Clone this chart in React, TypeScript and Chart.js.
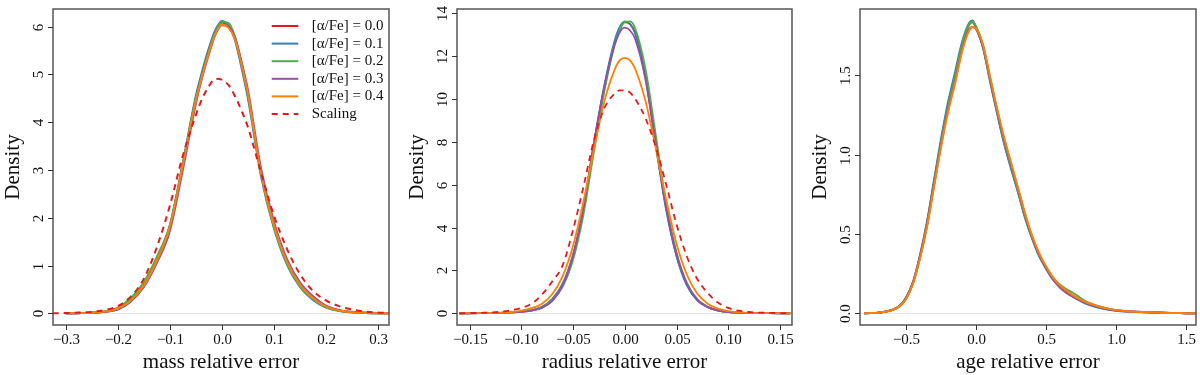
import React, { useEffect, useRef } from "react";
import { Chart, registerables } from "chart.js";

Chart.register(...registerables);

// ---------- shared ----------
const SERIES_LABELS = ["[α/Fe] = 0.0", "[α/Fe] = 0.1", "[α/Fe] = 0.2", "[α/Fe] = 0.3", "[α/Fe] = 0.4", "Scaling"];
const SERIES_COLORS = ["#E41A1C", "#377EB8", "#4DAF4A", "#984EA3", "#FF7F00", "#E41A1C"];
const Y_TITLE = "Density";

// ---------- panel 1: mass ----------
const massX = [-0.30, -0.275, -0.25, -0.225, -0.20, -0.175, -0.15, -0.125, -0.10, -0.075, -0.05, -0.0375, -0.025, -0.0125, 0.0, 0.0125, 0.025, 0.0375, 0.05, 0.075, 0.10, 0.125, 0.15, 0.175, 0.20, 0.225, 0.25, 0.275, 0.30, 0.325];
const massA00 = [0, 0.003, 0.011, 0.034, 0.1, 0.27, 0.59, 1.12, 1.82, 3.12, 4.5, 5.03, 5.5, 5.9, 6.09, 6.02, 5.76, 5.22, 4.6, 2.95, 1.83, 1.06, 0.59, 0.31, 0.14, 0.06, 0.025, 0.01, 0.003, 0];
const massA01 = [0, 0.003, 0.01, 0.03, 0.08, 0.24, 0.56, 1.10, 1.82, 3.15, 4.55, 5.08, 5.55, 5.93, 6.12, 6.02, 5.72, 5.15, 4.5, 2.88, 1.78, 1.02, 0.55, 0.28, 0.12, 0.05, 0.02, 0.008, 0.002, 0];
const massA02 = [0, 0.004, 0.013, 0.04, 0.12, 0.32, 0.65, 1.18, 1.85, 3.12, 4.48, 5.0, 5.48, 5.88, 6.1, 6.08, 5.8, 5.25, 4.6, 2.93, 1.8, 1.04, 0.57, 0.3, 0.13, 0.055, 0.022, 0.008, 0.002, 0];
const massA03 = [0, 0.003, 0.011, 0.033, 0.09, 0.25, 0.55, 1.05, 1.72, 3.0, 4.38, 4.95, 5.42, 5.83, 6.03, 6.0, 5.78, 5.28, 4.68, 3.05, 1.92, 1.14, 0.65, 0.36, 0.16, 0.07, 0.03, 0.012, 0.004, 0];
const massA04 = [0, 0.004, 0.012, 0.035, 0.10, 0.27, 0.58, 1.10, 1.80, 3.10, 4.45, 4.98, 5.45, 5.85, 6.04, 5.98, 5.75, 5.22, 4.6, 2.95, 1.85, 1.08, 0.60, 0.32, 0.14, 0.06, 0.025, 0.01, 0.003, 0];
const massScalingX = [-0.325, -0.30, -0.275, -0.25, -0.225, -0.20, -0.175, -0.15, -0.125, -0.10, -0.075, -0.05, -0.0375, -0.025, -0.0125, 0.0, 0.0125, 0.025, 0.0375, 0.05, 0.075, 0.10, 0.125, 0.15, 0.175, 0.20, 0.225, 0.25, 0.275, 0.30, 0.325];
const massScaling = [0, 0.005, 0.015, 0.03, 0.07, 0.15, 0.35, 0.72, 1.38, 2.25, 3.3, 4.15, 4.5, 4.75, 4.91, 4.89, 4.78, 4.55, 4.25, 3.9, 2.95, 2.05, 1.35, 0.82, 0.47, 0.27, 0.15, 0.08, 0.035, 0.015, 0.003];
const massXTicks = [-0.3, -0.2, -0.1, 0.0, 0.1, 0.2, 0.3];
const massXTickLabels = ["−0.3", "−0.2", "−0.1", "0.0", "0.1", "0.2", "0.3"];
const massYTicks = [0, 1, 2, 3, 4, 5, 6];
const massYTickLabels = ["0", "1", "2", "3", "4", "5", "6"];

// ---------- panel 2: radius ----------
const radX = [-0.16, -0.14, -0.12, -0.11, -0.10, -0.09, -0.08, -0.07, -0.06, -0.05, -0.04, -0.03, -0.02, -0.01, -0.005, 0.0, 0.005, 0.01, 0.02, 0.03, 0.04, 0.05, 0.06, 0.07, 0.08, 0.09, 0.10, 0.11, 0.12, 0.14, 0.16];
const radA00 = [0, 0.005, 0.02, 0.04, 0.08, 0.14, 0.29, 0.65, 1.35, 2.7, 4.85, 7.8, 10.5, 12.6, 13.3, 13.58, 13.5, 13.1, 11.1, 7.9, 4.9, 2.7, 1.33, 0.62, 0.29, 0.13, 0.06, 0.03, 0.015, 0.005, 0];
const radA01 = [0, 0.005, 0.02, 0.04, 0.08, 0.15, 0.3, 0.68, 1.4, 2.75, 4.9, 7.9, 10.6, 12.7, 13.35, 13.62, 13.5, 13.05, 11.0, 7.8, 4.8, 2.65, 1.3, 0.6, 0.28, 0.13, 0.06, 0.03, 0.015, 0.005, 0];
const radA02 = [0, 0.005, 0.02, 0.04, 0.07, 0.13, 0.27, 0.6, 1.25, 2.5, 4.6, 7.5, 10.3, 12.5, 13.2, 13.6, 13.62, 13.3, 11.4, 8.3, 5.1, 2.85, 1.42, 0.66, 0.3, 0.14, 0.06, 0.03, 0.015, 0.005, 0];
const radA03 = [0, 0.005, 0.02, 0.04, 0.07, 0.13, 0.25, 0.58, 1.3, 2.7, 4.9, 7.9, 10.5, 12.5, 13.1, 13.33, 13.2, 12.8, 10.9, 7.9, 4.95, 2.75, 1.38, 0.64, 0.3, 0.14, 0.06, 0.03, 0.015, 0.005, 0];
const radA04 = [0, 0.01, 0.03, 0.06, 0.12, 0.24, 0.45, 0.9, 1.75, 3.15, 5.2, 7.6, 9.85, 11.35, 11.8, 11.92, 11.8, 11.4, 9.9, 7.7, 5.3, 3.25, 1.8, 0.92, 0.45, 0.22, 0.1, 0.05, 0.02, 0.005, 0];
const radScaling = [0, 0.02, 0.07, 0.14, 0.25, 0.45, 0.88, 1.5, 2.25, 3.9, 5.9, 8.05, 9.55, 10.25, 10.4, 10.4, 10.3, 10.0, 9.1, 7.75, 6.0, 4.15, 2.65, 1.6, 0.95, 0.5, 0.25, 0.12, 0.06, 0.02, 0.005];
const radXTicks = [-0.15, -0.10, -0.05, 0.0, 0.05, 0.10, 0.15];
const radXTickLabels = ["−0.15", "−0.10", "−0.05", "0.00", "0.05", "0.10", "0.15"];
const radYTicks = [0, 2, 4, 6, 8, 10, 12, 14];
const radYTickLabels = ["0", "2", "4", "6", "8", "10", "12", "14"];

// ---------- panel 3: age ----------
const ageX = [-0.80, -0.75, -0.70, -0.65, -0.60, -0.55, -0.50, -0.45, -0.40, -0.35, -0.30, -0.25, -0.20, -0.15, -0.10, -0.05, -0.025, 0.0, 0.05, 0.10, 0.15, 0.20, 0.25, 0.30, 0.35, 0.40, 0.45, 0.50, 0.55, 0.60, 0.65, 0.70, 0.75, 0.80, 0.90, 1.00, 1.10, 1.20, 1.30, 1.40, 1.50, 1.57];
const ageA00 = [0, 0.002, 0.004, 0.01, 0.021, 0.044, 0.095, 0.195, 0.36, 0.57, 0.83, 1.08, 1.31, 1.5, 1.69, 1.82, 1.835, 1.8, 1.68, 1.47, 1.27, 1.08, 0.92, 0.77, 0.61, 0.48, 0.37, 0.29, 0.22, 0.17, 0.135, 0.105, 0.08, 0.06, 0.034, 0.018, 0.011, 0.007, 0.004, 0.002, 0.001, 0];
const ageA01 = [0, 0.002, 0.004, 0.01, 0.022, 0.045, 0.1, 0.2, 0.37, 0.58, 0.84, 1.1, 1.33, 1.52, 1.71, 1.83, 1.845, 1.8, 1.67, 1.46, 1.26, 1.07, 0.91, 0.76, 0.6, 0.47, 0.36, 0.28, 0.21, 0.165, 0.13, 0.1, 0.075, 0.055, 0.03, 0.016, 0.01, 0.006, 0.004, 0.002, 0.001, 0];
const ageA02 = [0, 0.002, 0.004, 0.01, 0.02, 0.042, 0.09, 0.19, 0.35, 0.55, 0.81, 1.07, 1.3, 1.49, 1.69, 1.82, 1.84, 1.81, 1.69, 1.48, 1.28, 1.09, 0.93, 0.77, 0.61, 0.48, 0.37, 0.29, 0.225, 0.18, 0.15, 0.125, 0.095, 0.068, 0.038, 0.02, 0.012, 0.008, 0.005, 0.002, 0.001, 0];
const ageA03 = [0, 0.002, 0.004, 0.01, 0.021, 0.043, 0.095, 0.195, 0.36, 0.56, 0.81, 1.06, 1.28, 1.46, 1.66, 1.79, 1.805, 1.79, 1.68, 1.48, 1.28, 1.1, 0.94, 0.78, 0.62, 0.48, 0.37, 0.285, 0.215, 0.16, 0.125, 0.1, 0.078, 0.06, 0.035, 0.019, 0.012, 0.009, 0.006, 0.002, 0.001, 0];
const ageA04 = [0, 0.002, 0.004, 0.01, 0.02, 0.042, 0.09, 0.19, 0.35, 0.55, 0.8, 1.05, 1.27, 1.45, 1.65, 1.78, 1.805, 1.795, 1.69, 1.49, 1.29, 1.11, 0.95, 0.79, 0.63, 0.49, 0.38, 0.295, 0.225, 0.175, 0.14, 0.11, 0.085, 0.065, 0.038, 0.02, 0.012, 0.008, 0.005, 0.002, 0.001, 0];
const ageXTicks = [-0.5, 0.0, 0.5, 1.0, 1.5];
const ageXTickLabels = ["−0.5", "0.0", "0.5", "1.0", "1.5"];
const ageYTicks = [0, 0.5, 1.0, 1.5];
const ageYTickLabels = ["0.0", "0.5", "1.0", "1.5"];

const FONT = '"Liberation Serif", "Times New Roman", serif';

type Series = { xs: number[]; ys: number[]; idx: number };

type PanelCfg = {
  xMin: number; xMax: number; yMin: number; yMax: number;
  xTicks: number[]; xTickLabels: string[];
  yTicks: number[]; yTickLabels: string[];
  xTitle: string;
  yAxisWidth: number; padRight: number;
  series: Series[];
  legend: boolean;
  lineWidth: number;
};

const PANELS: PanelCfg[] = [
  {
    xMin: -0.3244, xMax: 0.3211, yMin: -0.245, yMax: 6.37,
    xTicks: massXTicks, xTickLabels: massXTickLabels, yTicks: massYTicks, yTickLabels: massYTickLabels,
    xTitle: "mass relative error", yAxisWidth: 53, padRight: 11,
    series: [
      { xs: massX, ys: massA00, idx: 0 },
      { xs: massX, ys: massA01, idx: 1 },
      { xs: massX, ys: massA02, idx: 2 },
      { xs: massX, ys: massA03, idx: 3 },
      { xs: massX, ys: massA04, idx: 4 },
      { xs: massScalingX, ys: massScaling, idx: 5 },
    ],
    legend: true, lineWidth: 2,
  },
  {
    xMin: -0.1622, xMax: 0.1616, yMin: -0.546, yMax: 14.2,
    xTicks: radXTicks, xTickLabels: radXTickLabels, yTicks: radYTicks, yTickLabels: radYTickLabels,
    xTitle: "radius relative error", yAxisWidth: 57, padRight: 8,
    series: [
      { xs: radX, ys: radA00, idx: 0 },
      { xs: radX, ys: radA01, idx: 1 },
      { xs: radX, ys: radA02, idx: 2 },
      { xs: radX, ys: radA03, idx: 3 },
      { xs: radX, ys: radA04, idx: 4 },
      { xs: radX, ys: radScaling, idx: 5 },
    ],
    legend: false, lineWidth: 1.8,
  },
  {
    xMin: -0.829, xMax: 1.571, yMin: -0.0737, yMax: 1.918,
    xTicks: ageXTicks, xTickLabels: ageXTickLabels, yTicks: ageYTicks, yTickLabels: ageYTickLabels,
    xTitle: "age relative error", yAxisWidth: 60, padRight: 4,
    series: [
      { xs: ageX, ys: ageA00, idx: 0 },
      { xs: ageX, ys: ageA01, idx: 1 },
      { xs: ageX, ys: ageA02, idx: 2 },
      { xs: ageX, ys: ageA03, idx: 3 },
      { xs: ageX, ys: ageA04, idx: 4 },
    ],
    legend: false, lineWidth: 2,
  },
];

function makeChart(canvas: HTMLCanvasElement, cfg: PanelCfg) {
  const rPlugin = {
    id: "rstyle",
    beforeDatasetsDraw(chart: any) {
      const { ctx, chartArea: a, scales } = chart;
      const y0 = Math.round(scales.y.getPixelForValue(0)) + 0.5;
      ctx.save();
      ctx.strokeStyle = "#e6e6e6";
      ctx.lineWidth = 1;
      ctx.beginPath();
      ctx.moveTo(a.left, y0);
      ctx.lineTo(a.right, y0);
      ctx.stroke();
      ctx.restore();
    },
    afterDraw(chart: any) {
      const { ctx, chartArea: a, scales } = chart;
      const xs = scales.x;
      const ys = scales.y;
      ctx.save();
      // box
      ctx.strokeStyle = "#555";
      ctx.lineWidth = 1.5;
      ctx.strokeRect(a.left, a.top, a.right - a.left, a.bottom - a.top);
      // x ticks
      ctx.strokeStyle = "#333";
      ctx.lineWidth = 1;
      ctx.fillStyle = "#111";
      ctx.font = `15px ${FONT}`;
      ctx.textAlign = "center";
      ctx.textBaseline = "alphabetic";
      cfg.xTicks.forEach((v, i) => {
        const px = Math.round(xs.getPixelForValue(v)) + 0.5;
        ctx.beginPath();
        ctx.moveTo(px, a.bottom);
        ctx.lineTo(px, a.bottom + 5);
        ctx.stroke();
        ctx.fillText(cfg.xTickLabels[i], px, a.bottom + 18.5);
      });
      // y ticks
      cfg.yTicks.forEach((v, i) => {
        const py = Math.round(ys.getPixelForValue(v)) + 0.5;
        ctx.beginPath();
        ctx.moveTo(a.left - 5, py);
        ctx.lineTo(a.left, py);
        ctx.stroke();
        ctx.save();
        ctx.translate(a.left - 10, py);
        ctx.rotate(-Math.PI / 2);
        ctx.fillText(cfg.yTickLabels[i], 0, 0);
        ctx.restore();
      });
      // titles
      ctx.font = `21px ${FONT}`;
      ctx.fillText(cfg.xTitle, (a.left + a.right) / 2, a.bottom + 43);
      ctx.save();
      ctx.translate(a.left - 34, (a.top + a.bottom) / 2);
      ctx.rotate(-Math.PI / 2);
      ctx.fillText(Y_TITLE, 0, 0);
      ctx.restore();
      // legend
      if (cfg.legend) {
        ctx.font = `15px ${FONT}`;
        ctx.textAlign = "left";
        ctx.textBaseline = "middle";
        chart.data.datasets.forEach((ds: any, i: number) => {
          const ly = a.top + 17 + i * 17.6;
          ctx.save();
          ctx.strokeStyle = ds.borderColor;
          ctx.lineWidth = 2;
          ctx.setLineDash(ds.borderDash || []);
          ctx.beginPath();
          ctx.moveTo(a.right - 117.3, ly);
          ctx.lineTo(a.right - 90.7, ly);
          ctx.stroke();
          ctx.restore();
          ctx.fillText(ds.label, a.right - 77.3, ly);
        });
      }
      ctx.restore();
    },
  };

  const datasets = cfg.series.map((s) => ({
    label: SERIES_LABELS[s.idx],
    data: s.xs.map((x, i) => ({ x, y: s.ys[i] })),
    borderColor: SERIES_COLORS[s.idx],
    backgroundColor: SERIES_COLORS[s.idx],
    borderWidth: cfg.lineWidth,
    borderDash: s.idx === 5 ? [6, 5] : [],
    pointRadius: 0,
    fill: false,
    cubicInterpolationMode: "monotone" as const,
    order: 6 - s.idx,
  }));

  return new Chart(canvas, {
    type: "line",
    data: { datasets },
    options: {
      responsive: false,
      animation: false,
      devicePixelRatio: 1,
      layout: { padding: { left: 0, top: 9, right: cfg.padRight, bottom: 0 } },
      plugins: { legend: { display: false }, tooltip: { enabled: false } },
      scales: {
        x: {
          type: "linear",
          min: cfg.xMin,
          max: cfg.xMax,
          grid: { display: false },
          border: { display: false },
          ticks: { display: false },
          afterFit: (s: any) => { s.height = 50; },
        },
        y: {
          type: "linear",
          min: cfg.yMin,
          max: cfg.yMax,
          grid: { display: false },
          border: { display: false },
          ticks: { display: false },
          afterFit: (s: any) => { s.width = cfg.yAxisWidth; },
        },
      },
    },
    plugins: [rPlugin],
  } as any);
}

function Panel({ cfg, left }: { cfg: PanelCfg; left: number }) {
  const ref = useRef<HTMLCanvasElement | null>(null);
  useEffect(() => {
    if (!ref.current) return;
    const chart = makeChart(ref.current, cfg);
    return () => chart.destroy();
  }, [cfg]);
  return (
    <canvas
      ref={ref}
      width={400}
      height={375}
      style={{ position: "absolute", left, top: 0, width: 400, height: 375 }}
    />
  );
}

export default function App() {
  return (
    <div style={{ position: "fixed", left: 0, top: 0, width: 1200, height: 375, background: "#fff", overflow: "hidden" }}>
      {PANELS.map((p, i) => (
        <Panel key={i} cfg={p} left={i * 400} />
      ))}
    </div>
  );
}
